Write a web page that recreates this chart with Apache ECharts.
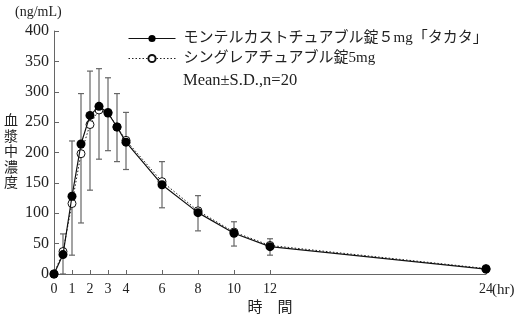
<!DOCTYPE html>
<html><head><meta charset="utf-8">
<script src="https://cdn.jsdelivr.net/npm/echarts@6/dist/echarts.min.js"></script>
<style>html,body{margin:0;padding:0;background:#fff}#c{width:526px;height:322px}</style>
</head><body><div id="c"></div>
<script>
const times = [0, 0.5, 1, 1.5, 2, 2.5, 3, 3.5, 4, 6, 8, 10, 12, 24];
const takata = [0, 32, 128, 214, 261, 276, 265, 242, 217, 147, 101, 67, 45, 8];
const singulair = [0, 37, 116, 198, 246, 270, 266, 242, 220, 152, 104, 69, 47, 9];
const sdHigh = [null, 66, 219, 297, 334, 338, 323, 297, 266, 185, 129, 86, 58, null];
const sdLow = [null, 0, 31, 84, 138, 189, 203, 185, 172, 109, 71, 46, 31, null];
const xTickLabels = [0, 1, 2, 3, 4, 6, 8, 10, 12, 24];
const seriesNames = ['モンテルカストチュアブル錠５mg「タカタ」', 'シングレアチュアブル錠5mg'];
const yTitleChars = ['血', '漿', '中', '濃', '度'];

const FONT = '"Liberation Serif", "Noto Sans CJK JP", serif';
const chart = echarts.init(document.getElementById('c'), null, {renderer: 'canvas'});

const errData = times.map((t, i) => [t, sdLow[i], sdHigh[i]]).filter(d => d[1] != null);

const titleGraphics = yTitleChars.map((ch, i) => ({
  type: 'text', left: 4, top: 113 + i * 15.5,
  style: {text: ch, font: '14px "Noto Sans CJK JP"', fill: '#222'}
}));

chart.setOption({
  animation: false,
  textStyle: {fontFamily: FONT, color: '#222'},
  grid: {left: 54, right: 40, top: 31, bottom: 48, containLabel: false},
  legend: {
    orient: 'vertical', left: 123, top: 26,
    itemWidth: 47, itemHeight: 9, itemGap: 5,
    lineStyle: {width: 1},
    textStyle: {fontFamily: FONT, fontSize: 15, color: '#222', padding: [0, 0, 0, 3]},
    data: seriesNames
  },
  xAxis: {
    type: 'value', min: 0, max: 24, interval: 1,
    name: '時　間', nameLocation: 'middle', nameGap: 20,
    nameTextStyle: {fontFamily: FONT, fontSize: 15, color: '#222'},
    axisLine: {lineStyle: {color: '#666', width: 1}},
    axisTick: {inside: true, length: 4, lineStyle: {color: '#666'}, customValues: xTickLabels.slice(1)},
    axisLabel: {fontFamily: FONT, fontSize: 14, color: '#222', margin: 8, customValues: xTickLabels},
    splitLine: {show: false}
  },
  yAxis: {
    type: 'value', min: 0, max: 400, interval: 50,
    axisLine: {show: true, lineStyle: {color: '#666', width: 1}},
    axisTick: {show: true, inside: true, length: 5, lineStyle: {color: '#666'}},
    axisLabel: {fontFamily: FONT, fontSize: 16, color: '#222', margin: 5},
    splitLine: {show: false}
  },
  graphic: [
    {type: 'text', left: 15, top: 5, style: {text: '(ng/mL)', font: '14px ' + FONT, fill: '#222'}},
    {type: 'text', left: 183, top: 72, style: {text: 'Mean±S.D.,n=20', font: '16.5px ' + FONT, fill: '#222'}},
    {type: 'text', left: 492, top: 283, style: {text: '(hr)', font: '15px ' + FONT, fill: '#222'}}
  ].concat(titleGraphics),
  series: [
    {
      type: 'custom', name: 'sd', z: 1, silent: true,
      data: errData,
      renderItem: function (params, api) {
        const x = api.value(0);
        const lo = api.coord([x, api.value(1)]);
        const hi = api.coord([x, api.value(2)]);
        const w = 3;
        const st = {stroke: '#666', lineWidth: 1.2};
        return {type: 'group', children: [
          {type: 'line', shape: {x1: lo[0], y1: lo[1], x2: hi[0], y2: hi[1]}, style: st},
          {type: 'line', shape: {x1: lo[0] - w, y1: lo[1], x2: lo[0] + w, y2: lo[1]}, style: st},
          {type: 'line', shape: {x1: hi[0] - w, y1: hi[1], x2: hi[0] + w, y2: hi[1]}, style: st}
        ]};
      }
    },
    {
      type: 'line', name: seriesNames[1], z: 2,
      data: times.map((t, i) => [t, singulair[i]]),
      symbol: 'circle', symbolSize: 8, showAllSymbol: true,
      lineStyle: {color: '#222', width: 1, type: [1.5, 2]},
      itemStyle: {color: '#fff', borderColor: '#111', borderWidth: 1}
    },
    {
      type: 'line', name: seriesNames[0], z: 3,
      data: times.map((t, i) => [t, takata[i]]),
      symbol: 'circle', symbolSize: 9, showAllSymbol: true,
      lineStyle: {color: '#111', width: 1.2, type: 'solid'},
      itemStyle: {color: '#000', borderColor: '#000', borderWidth: 0}
    }
  ]
});
</script></body></html>
